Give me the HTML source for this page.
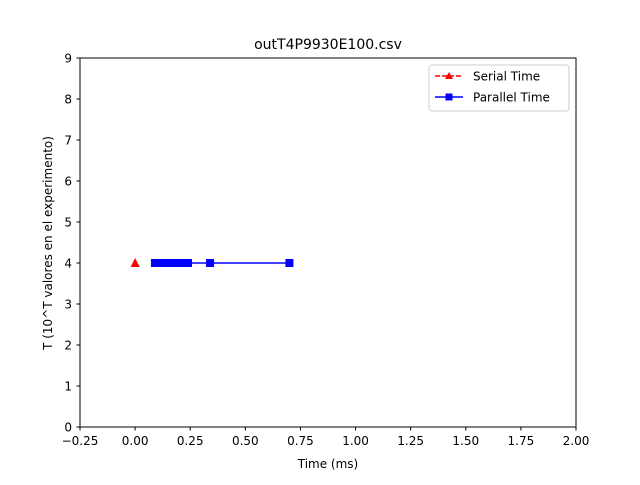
<!DOCTYPE html>
<html><head><meta charset="utf-8"><style>
body{margin:0;background:#fff;font-family:"Liberation Sans","DejaVu Sans",sans-serif}
svg text{font-family:"DejaVu Sans","Liberation Sans",sans-serif}
</style></head><body>
<svg id="c" width="640" height="480" xmlns="http://www.w3.org/2000/svg">
<rect width="640" height="480" fill="#fff"/>
<text x="328" y="49" font-size="14" text-anchor="middle">outT4P9930E100.csv</text>
<g id="ax"></g>
<g id="marks"></g>
<rect x="80" y="58" width="496" height="369" fill="none" stroke="#000" stroke-width="1"/>
<text x="328" y="468" font-size="12" text-anchor="middle">Time (ms)</text>
<text transform="translate(52,243) rotate(-90)" font-size="12" text-anchor="middle">T (10^T valores en el experimento)</text>
<g>
<rect x="429" y="65" width="140" height="46" fill="#fff" stroke="#ccc" rx="3"/>
<g>
<line x1="435" y1="76" x2="463" y2="76" stroke="red" stroke-width="1.5" stroke-dasharray="5,2"/>
<polygon points="449,72 453,79 445,79" fill="red"/>
<text x="473" y="80.5" font-size="12">Serial Time</text></g>
<g>
<line x1="435" y1="97" x2="463" y2="97" stroke="blue" stroke-width="1.5"/>
<rect x="445.5" y="93.5" width="7" height="7" fill="blue"/>
<text x="473" y="101.5" font-size="12">Parallel Time</text></g>
</g>
</svg>
<script>
const xTicks=[-0.25,0,0.25,0.5,0.75,1,1.25,1.5,1.75,2];
const xTickLabels=["−0.25","0.00","0.25","0.50","0.75","1.00","1.25","1.50","1.75","2.00"];
const yTicks=[0,1,2,3,4,5,6,7,8,9];
const serialX=[0.0];
const serialY=[4];
const parallelX=[0.09,0.10,0.11,0.12,0.13,0.14,0.15,0.16,0.17,0.20,0.21,0.22,0.23,0.24,0.34,0.70];
const parallelY=[4,4,4,4,4,4,4,4,4,4,4,4,4,4,4,4];
const X=v=>80+(v+0.25)/2.25*496, Y=v=>427-v/9*369;
const NS="http://www.w3.org/2000/svg";
const ax=document.getElementById('ax'), mk=document.getElementById('marks');
function el(t,a,p){const e=document.createElementNS(NS,t);for(const k in a)e.setAttribute(k,a[k]);p.appendChild(e);return e;}
xTicks.forEach((v,i)=>{
 const l=el('line',{x1:X(v),x2:X(v),y1:427,y2:430.5,stroke:'#000'},ax);
 
 
 const t=el('text',{x:X(v),y:445,'font-size':12,'text-anchor':'middle'},ax);t.textContent=xTickLabels[i];
 
 
});
yTicks.forEach(v=>{
 const l=el('line',{x1:76.5,x2:80,y1:Y(v),y2:Y(v),stroke:'#000'},ax);
 
 
 const t=el('text',{x:72,y:Y(v)+4.5,'font-size':12,'text-anchor':'end'},ax);t.textContent=v;
 
 
});
const pl=el('polyline',{points:parallelX.map((x,i)=>X(x)+','+Y(parallelY[i])).join(' '),fill:'none',stroke:'blue','stroke-width':1.5},mk);


parallelX.forEach((x,i)=>{
 const r=el('rect',{x:X(x)-4,y:Y(parallelY[i])-4,width:8,height:8,fill:'blue'},mk);
 
 
});
const sl=el('polyline',{points:serialX.map((x,i)=>X(x)+','+Y(serialY[i])).join(' '),fill:'none',stroke:'red','stroke-width':1.5,'stroke-dasharray':'5,2'},mk);


serialX.forEach((x,i)=>{
 const cx=X(x),cy=Y(serialY[i]);
 const p=el('polygon',{points:`${cx},${cy-5} ${cx+4.5},${cy+4} ${cx-4.5},${cy+4}`,fill:'red'},mk);
 
 
});
</script>
</body></html>
